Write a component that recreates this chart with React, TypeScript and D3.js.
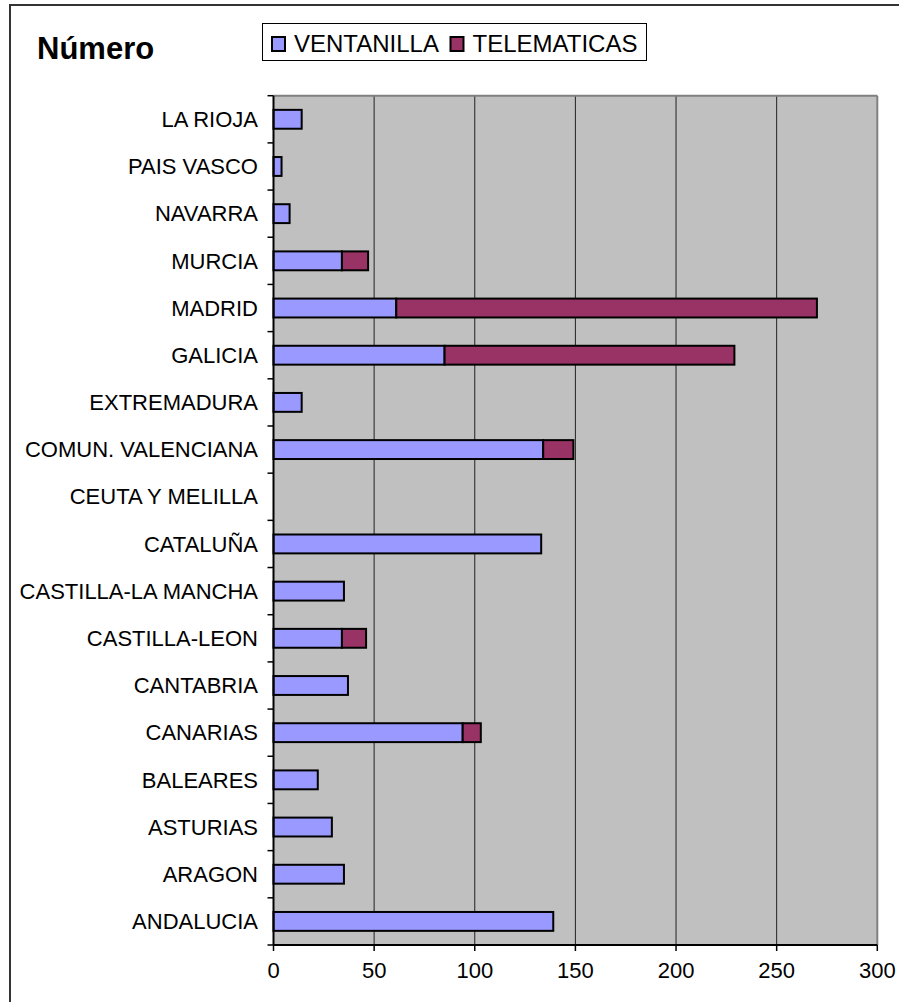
import * as d3 from "d3";

const categories = [
  "ANDALUCIA", "ARAGON", "ASTURIAS", "BALEARES", "CANARIAS", "CANTABRIA",
  "CASTILLA-LEON", "CASTILLA-LA MANCHA", "CATALUÑA", "CEUTA Y MELILLA",
  "COMUN. VALENCIANA", "EXTREMADURA", "GALICIA", "MADRID", "MURCIA",
  "NAVARRA", "PAIS VASCO", "LA RIOJA",
];
const ventanilla = [139, 35, 29, 22, 94, 37, 34, 35, 133, 0, 134, 14, 85, 61, 34, 8, 4, 14];
const telematicas = [0, 0, 0, 0, 9, 0, 12, 0, 0, 0, 15, 0, 144, 209, 13, 0, 0, 0];
const seriesNames = ["VENTANILLA", "TELEMATICAS"];
const xTicks = [0, 50, 100, 150, 200, 250, 300];

const colors = ["#9999FF", "#993366"];
const font = "Liberation Sans, Arial, sans-serif";

export default function App() {
  const width = 899;
  const height = 1002;
  const left = 273.5, right = 877.3, top = 95.7, bottom = 945;

  const x = d3.scaleLinear([0, 300], [left, right]);
  const y = d3.scaleBand<string>([...categories].reverse(), [top, bottom]);
  const barH = y.step() / 2.5;

  const rows = categories.map((c, i) => ({ cat: c, VENTANILLA: ventanilla[i], TELEMATICAS: telematicas[i] }));
  const stacked = d3.stack<any>().keys(seriesNames)(rows);

  return (
    <svg width={width} height={height} style={{ position: "absolute", left: 0, top: 0, display: "block" }}
      xmlns="http://www.w3.org/2000/svg" fontFamily={font}>
      <rect x={0} y={0} width={width} height={height} fill="#fff" />
      {/* outer chart border */}
      <rect x={10} y={5} width={width + 20} height={height + 20} fill="none" stroke="#333" strokeWidth={2} />

      <text x={37} y={59} fontSize={31} fontWeight="bold">Número</text>

      {/* legend */}
      <rect x={262.5} y={23.5} width={384} height={37} fill="#fff" stroke="#000" strokeWidth={1} />
      {seriesNames.map((s, i) => {
        const lx = i === 0 ? 272 : 450.5;
        return (
          <g key={s}>
            <rect x={lx} y={37} width={13} height={14} fill={colors[i]} stroke="#000" strokeWidth={2} />
            <text x={lx + 22} y={51.5} fontSize={24}>{s}</text>
          </g>
        );
      })}

      {/* plot area */}
      <rect x={left} y={top} width={right - left} height={bottom - top} fill="#C0C0C0" />
      {xTicks.slice(1, -1).map(t => (
        <line key={t} x1={x(t)} x2={x(t)} y1={top} y2={bottom} stroke="#222" strokeWidth={1} />
      ))}
      <line x1={left} x2={right} y1={top} y2={top} stroke="#808080" strokeWidth={2} />
      <line x1={right} x2={right} y1={top} y2={bottom} stroke="#808080" strokeWidth={2} />

      {/* bars */}
      {stacked.map((layer, si) => (
        <g key={layer.key}>
          {layer.map((d, i) => {
            const w = x(d[1]) - x(d[0]);
            if (w <= 0) return null;
            return (
              <rect key={i} x={x(d[0])} y={(y(categories[i]) as number) + (y.step() - barH) / 2}
                width={w} height={barH} fill={colors[si]} stroke="#000" strokeWidth={2} />
            );
          })}
        </g>
      ))}

      {/* axes */}
      <line x1={left} x2={left} y1={top} y2={bottom} stroke="#000" strokeWidth={2} />
      <line x1={left} x2={right} y1={bottom} y2={bottom} stroke="#000" strokeWidth={2} />
      {d3.range(categories.length + 1).map(i => (
        <line key={i} x1={left - 6} x2={left} y1={top + i * y.step()} y2={top + i * y.step()} stroke="#000" strokeWidth={1.5} />
      ))}
      {xTicks.map(t => (
        <g key={t}>
          <line x1={x(t)} x2={x(t)} y1={bottom} y2={bottom + 6} stroke="#000" strokeWidth={1.5} />
          <text x={x(t)} y={978} fontSize={22} textAnchor="middle">{t}</text>
        </g>
      ))}
      {categories.map(c => (
        <text key={c} x={258} y={(y(c) as number) + y.step() / 2} dy="0.35em" fontSize={22} textAnchor="end">{c}</text>
      ))}
    </svg>
  );
}
